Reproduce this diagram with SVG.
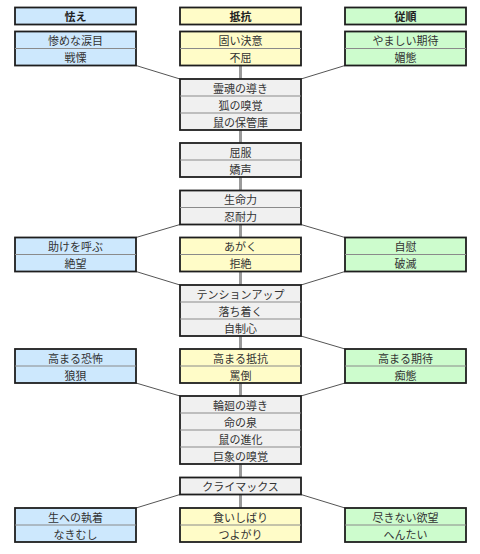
<svg xmlns="http://www.w3.org/2000/svg" width="480" height="554" viewBox="0 0 480 554">
<style>
text{font-family:"Noto Sans CJK JP","Noto Sans",sans-serif;font-size:11px;fill:#333;text-anchor:middle;dominant-baseline:central}
.h{font-weight:bold;fill:#222}
.box{stroke:#1e1e1e;stroke-width:1.8}
.b{fill:#cde8fd}.y{fill:#fffcc8}.g{fill:#cdfccd}.w{fill:#f0f0f0}
.div{stroke:#8a8a8a;stroke-width:1}
.trunk{stroke:#9a9a9a;stroke-width:3;fill:none}
.diag{stroke:#555;stroke-width:1;fill:none}
</style>
<rect width="480" height="554" fill="#fff"/>
<g id="connectors">
<line class="trunk" x1="240.5" y1="65.5" x2="240.5" y2="508"/>
<line class="diag" x1="136" y1="65.5" x2="180" y2="79"/>
<line class="diag" x1="345" y1="65.5" x2="301" y2="79"/>
<line class="diag" x1="180" y1="224.5" x2="136" y2="237.5"/>
<line class="diag" x1="301" y1="224.5" x2="345" y2="237.5"/>
<line class="diag" x1="136" y1="271.5" x2="180" y2="285"/>
<line class="diag" x1="345" y1="271.5" x2="301" y2="285"/>
<line class="diag" x1="301" y1="336" x2="345" y2="349"/>
<line class="diag" x1="136" y1="383" x2="180" y2="396"/>
<line class="diag" x1="345" y1="383" x2="301" y2="396"/>
<line class="diag" x1="180" y1="494.5" x2="136" y2="508"/>
<line class="diag" x1="301" y1="494.5" x2="345" y2="508"/>
</g>
<g id="hdr-fear"><rect class="box b" x="15" y="7.5" width="121" height="17"/><text class="h" x="75.5" y="16">怯え</text></g>
<g id="hdr-resist"><rect class="box y" x="180" y="7.5" width="121" height="17"/><text class="h" x="240.5" y="16">抵抗</text></g>
<g id="hdr-obey"><rect class="box g" x="345" y="7.5" width="121" height="17"/><text class="h" x="405.5" y="16">従順</text></g>

<g id="l1"><rect class="box b" x="15" y="31.5" width="121" height="34"/><line class="div" x1="15" y1="48.5" x2="136" y2="48.5"/><text x="75.5" y="40">惨めな涙目</text><text x="75.5" y="57">戦慄</text></g>
<g id="c1"><rect class="box y" x="180" y="31.5" width="121" height="34"/><line class="div" x1="180" y1="48.5" x2="301" y2="48.5"/><text x="240.5" y="40">固い決意</text><text x="240.5" y="57">不屈</text></g>
<g id="r1"><rect class="box g" x="345" y="31.5" width="121" height="34"/><line class="div" x1="345" y1="48.5" x2="466" y2="48.5"/><text x="405.5" y="40">やましい期待</text><text x="405.5" y="57">媚態</text></g>

<g id="m1"><rect class="box w" x="180" y="79" width="121" height="51"/><line class="div" x1="180" y1="96" x2="301" y2="96"/><line class="div" x1="180" y1="113" x2="301" y2="113"/><text x="240.5" y="87.5">霊魂の導き</text><text x="240.5" y="104.5">狐の嗅覚</text><text x="240.5" y="121.5">鼠の保管庫</text></g>
<g id="m2"><rect class="box w" x="180" y="143" width="121" height="34"/><line class="div" x1="180" y1="160" x2="301" y2="160"/><text x="240.5" y="151.5">屈服</text><text x="240.5" y="168.5">嬌声</text></g>
<g id="m3"><rect class="box w" x="180" y="190.5" width="121" height="34"/><line class="div" x1="180" y1="207.5" x2="301" y2="207.5"/><text x="240.5" y="199">生命力</text><text x="240.5" y="216">忍耐力</text></g>

<g id="l2"><rect class="box b" x="15" y="237.5" width="121" height="34"/><line class="div" x1="15" y1="254.5" x2="136" y2="254.5"/><text x="75.5" y="246">助けを呼ぶ</text><text x="75.5" y="263">絶望</text></g>
<g id="c2"><rect class="box y" x="180" y="237.5" width="121" height="34"/><line class="div" x1="180" y1="254.5" x2="301" y2="254.5"/><text x="240.5" y="246">あがく</text><text x="240.5" y="263">拒絶</text></g>
<g id="r2"><rect class="box g" x="345" y="237.5" width="121" height="34"/><line class="div" x1="345" y1="254.5" x2="466" y2="254.5"/><text x="405.5" y="246">自慰</text><text x="405.5" y="263">破滅</text></g>

<g id="m4"><rect class="box w" x="180" y="285" width="121" height="51"/><line class="div" x1="180" y1="302" x2="301" y2="302"/><line class="div" x1="180" y1="319" x2="301" y2="319"/><text x="240.5" y="293.5">テンションアップ</text><text x="240.5" y="310.5">落ち着く</text><text x="240.5" y="327.5">自制心</text></g>

<g id="l3"><rect class="box b" x="15" y="349" width="121" height="34"/><line class="div" x1="15" y1="366" x2="136" y2="366"/><text x="75.5" y="357.5">高まる恐怖</text><text x="75.5" y="374.5">狼狽</text></g>
<g id="c3"><rect class="box y" x="180" y="349" width="121" height="34"/><line class="div" x1="180" y1="366" x2="301" y2="366"/><text x="240.5" y="357.5">高まる抵抗</text><text x="240.5" y="374.5">罵倒</text></g>
<g id="r3"><rect class="box g" x="345" y="349" width="121" height="34"/><line class="div" x1="345" y1="366" x2="466" y2="366"/><text x="405.5" y="357.5">高まる期待</text><text x="405.5" y="374.5">痴態</text></g>

<g id="m5"><rect class="box w" x="180" y="396" width="121" height="68"/><line class="div" x1="180" y1="413" x2="301" y2="413"/><line class="div" x1="180" y1="430" x2="301" y2="430"/><line class="div" x1="180" y1="447" x2="301" y2="447"/><text x="240.5" y="404.5">輪廻の導き</text><text x="240.5" y="421.5">命の泉</text><text x="240.5" y="438.5">鼠の進化</text><text x="240.5" y="455.5">巨象の嗅覚</text></g>
<g id="m6"><rect class="box w" x="180" y="477.5" width="121" height="17"/><text x="240.5" y="486">クライマックス</text></g>

<g id="l4"><rect class="box b" x="15" y="508" width="121" height="34"/><line class="div" x1="15" y1="525" x2="136" y2="525"/><text x="75.5" y="516.5">生への執着</text><text x="75.5" y="533.5">なきむし</text></g>
<g id="c4"><rect class="box y" x="180" y="508" width="121" height="34"/><line class="div" x1="180" y1="525" x2="301" y2="525"/><text x="240.5" y="516.5">食いしばり</text><text x="240.5" y="533.5">つよがり</text></g>
<g id="r4"><rect class="box g" x="345" y="508" width="121" height="34"/><line class="div" x1="345" y1="525" x2="466" y2="525"/><text x="405.5" y="516.5">尽きない欲望</text><text x="405.5" y="533.5">へんたい</text></g>
</svg>
